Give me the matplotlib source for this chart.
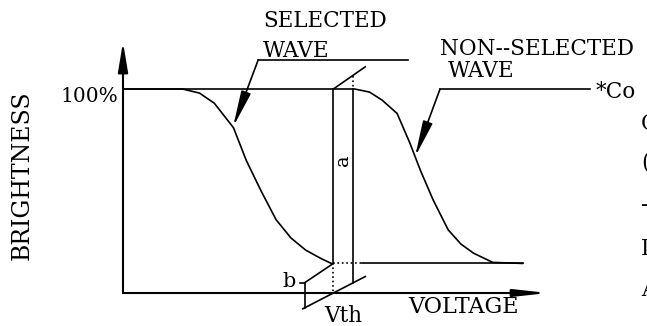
import matplotlib.pyplot as plt
import matplotlib as mpl

mpl.rcParams['font.family'] = ['DejaVu Serif']

# curvas (voltaje en unidades arbitrarias, brillo en %)
sel_v = [0, 1.4, 1.8, 2.15, 2.6, 2.9, 3.25, 3.6, 3.95, 4.3, 4.65, 4.9]
sel_b = [100, 100, 98, 93, 81, 65, 50, 36, 27, 21, 17, 14.5]

nsel_v = [0, 5.45, 5.8, 6.1, 6.45, 6.75, 7.0, 7.3, 7.65, 7.95, 8.25, 8.7, 9.4]
nsel_b = [100, 100, 98.5, 94.5, 88, 73.5, 60, 45.5, 31, 24, 19.5, 15, 14.5]

vth = 4.95      # umbral
v_a = 5.4       # segunda vertical (cota a)
nivel_b = 14.5  # brillo minimo
v_fin = 9.4
v_max = 10      # punta del eje x
b_max = 123     # punta del eje y

# columna de texto cortada a la derecha
col_txt = ['C', '(', '-', 'I', 'A']
col_b = [83, 64, 43, 21.5, 1.5]

lw = 1.2
k = 'black'


def flecha(x0, y0, x1, y1, hl=1.8, hw=0.3, ancho=lw):
    ax.annotate('', xy=(x1, y1), xytext=(x0, y0),
                arrowprops=dict(arrowstyle='-|>,head_length=%g,head_width=%g' % (hl, hw),
                                color=k, lw=ancho, shrinkA=0, shrinkB=0,
                                mutation_scale=10))


fig = plt.figure(figsize=(6.47, 3.26), dpi=100)
ax = fig.add_axes([0, 0, 1, 1])
ax.set_xlim(-123 / 42.5, 524 / 42.5)
ax.set_ylim(-33 / 2.04, 293 / 2.04)
ax.axis('off')

# ejes
flecha(0, 0, 0, b_max, hl=1.8, hw=0.3, ancho=1.5)
flecha(0, 0, v_max, 0, hl=2.0, hw=0.22, ancho=1.5)

# curvas
ax.plot(sel_v, sel_b, color=k, lw=lw)
ax.plot(nsel_v, nsel_b, color=k, lw=lw)

# nivel b
ax.plot([vth, 5.62], [nivel_b, nivel_b], color=k, lw=lw, ls=':')
ax.plot([5.62, v_fin], [nivel_b, nivel_b], color=k, lw=lw)

# lineas de construccion en perspectiva
k_sup, k_inf, k_b = 14.5, 10.75, 14.0
ax.plot([vth, vth + 0.75], [100, 100 + k_sup * 0.75], color=k, lw=lw)
ax.plot([vth - 0.72, vth + 0.75], [-k_inf * 0.72, k_inf * 0.75], color=k, lw=lw)
ax.plot([vth, vth], [100, nivel_b], color=k, lw=lw)
ax.plot([vth, vth], [nivel_b, 0], color=k, lw=lw, ls=':')
ax.plot([v_a, v_a], [100 + k_sup * (v_a - vth), 100], color=k, lw=lw, ls=':')
ax.plot([v_a, v_a], [100, k_inf * (v_a - vth)], color=k, lw=lw)
xb = vth - 0.67
ax.plot([xb, vth], [nivel_b - k_b * 0.67, nivel_b], color=k, lw=lw)
ax.plot([xb, xb], [nivel_b - k_b * 0.67, -k_inf * 0.67], color=k, lw=lw)
ax.plot([xb - 0.12, xb], [nivel_b - k_b * 0.67] * 2, color=k, lw=lw)

# llamadas
ax.plot([3.18, 6.71], [114.2, 114.2], color=k, lw=lw)
flecha(3.18, 114.2, 2.59, 81.4, hl=2.2, hw=0.3)
ax.plot([7.46, 10.99], [100, 100], color=k, lw=lw)
flecha(7.46, 100, 6.87, 66.7, hl=2.2, hw=0.3)

# textos
ax.text(3.29, 130.4, 'SELECTED', fontsize=15.5, va='baseline')
ax.text(3.29, 115.9, 'WAVE', fontsize=15.5, va='baseline')
ax.text(7.46, 116.6, 'NON--SELECTED', fontsize=15.5, va='baseline')
ax.text(7.65, 106.0, 'WAVE', fontsize=15.5, va='baseline')
ax.text(-0.12, 93.6, '100%', fontsize=14.5, va='baseline', ha='right')
ax.text(-2.38, 57.8, 'BRIGHTNESS', fontsize=17, rotation=90, va='center', ha='center')
ax.text(6.71, -9.8, 'VOLTAGE', fontsize=16, va='baseline')
ax.text(vth + 0.23, -14.4, 'Vth', fontsize=15.5, va='baseline', ha='center')
ax.text((vth + v_a) / 2, 65, 'a', fontsize=14, rotation=90, va='center', ha='center')
ax.text(3.76, 2.9, 'b', fontsize=15, va='baseline')
ax.text(11.12, 95.4, '*Co', fontsize=15.5, va='baseline')
for t, b in zip(col_txt, col_b):
    ax.text(12.19, b, t, fontsize=15.5, va='center')

plt.savefig('out.png', dpi=100)
